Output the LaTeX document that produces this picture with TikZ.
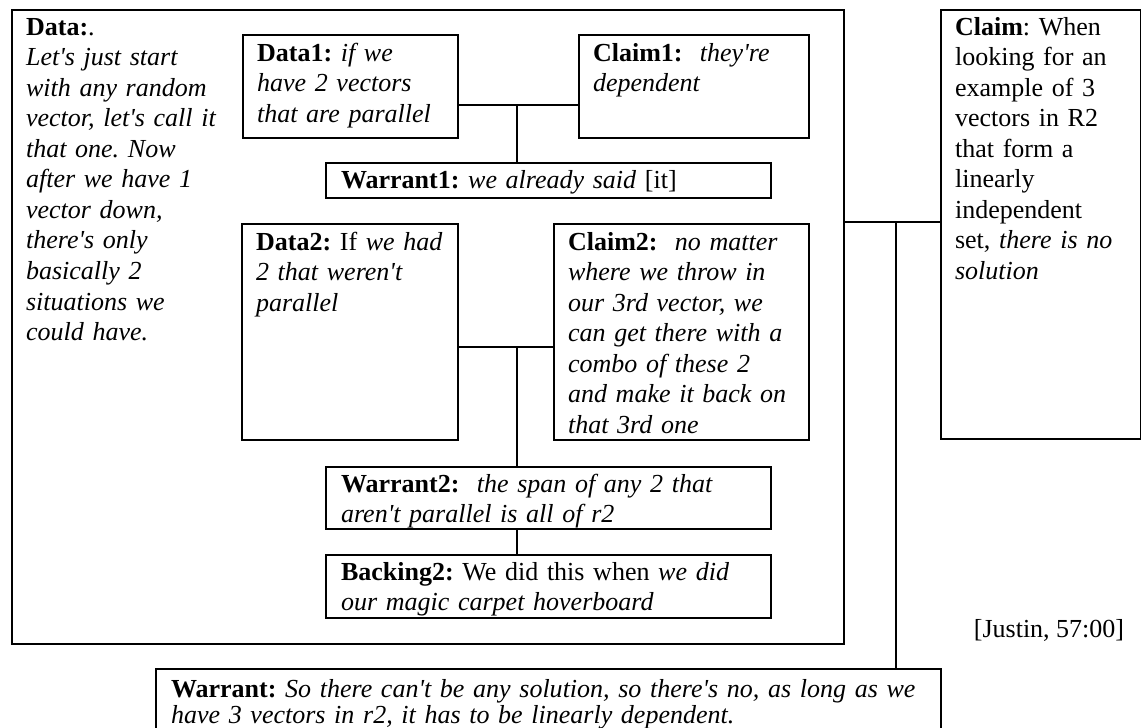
\documentclass[tikz,border=0pt]{standalone}
\usepackage{fontspec}
\setmainfont{Liberation Serif}[Ligatures=TeXOff]
\newdimen\upx \upx=0.4615pt
\begin{document}
\frenchspacing
\begin{tikzpicture}[x=0.4615pt, y=-0.4615pt,
  tbox/.style={draw, line width=1pt, anchor=north west, align=left,
    inner xsep=14\upx, inner ysep=0pt,
    font=\fontsize{12pt}{14.1pt}\selectfont\frenchspacing},
  link/.style={line width=1pt}]
\useasboundingbox (0,0) rectangle (1141,728);

% outer data box
\node[tbox, text width=804\upx, text height=25\upx, text depth=609\upx] (data) at (11,9)
  {\textbf{Data:}.\\
   \textit{Let's just start}\\
   \textit{with any random}\\
   \textit{vector, let's call it}\\
   \textit{that one. Now}\\
   \textit{after we have 1}\\
   \textit{vector down,}\\
   \textit{there's only}\\
   \textit{basically 2}\\
   \textit{situations we}\\
   \textit{could have.}};

% first sub-argument
\node[tbox, text width=187\upx, text height=26\upx, text depth=77\upx] (data1) at (242,34)
  {\mbox{\textbf{Data1:} \textit{if we}}\\
   \mbox{\textit{have 2 vectors}}\\
   \mbox{\textit{that are parallel}}};
\node[tbox, text width=202\upx, text height=26\upx, text depth=77\upx] (claim1) at (578,34)
  {\mbox{\textbf{Claim1:}\ \ \textit{they're}}\\
   \textit{dependent}};
\node[tbox, inner xsep=15\upx, text width=415\upx, text height=25\upx, text depth=10\upx] (warrant1) at (325,162)
  {\textbf{Warrant1:} \textit{we already said} [it]};

% second sub-argument
\node[tbox, text width=188\upx, text height=26\upx, text depth=190\upx] (data2) at (241,223)
  {\mbox{\textbf{Data2:} If \textit{we had}}\\
   \mbox{\textit{2 that weren't}}\\
   \textit{parallel}};
\node[tbox, text width=227\upx, text height=26\upx, text depth=190\upx] (claim2) at (553,223)
  {\mbox{\textbf{Claim2:}\ \ \textit{no matter}}\\
   \mbox{\textit{where we throw in}}\\
   \mbox{\textit{our 3rd vector, we}}\\
   \mbox{\textit{can get there with a}}\\
   \mbox{\textit{combo of these 2}}\\
   \mbox{\textit{and make it back on}}\\
   \mbox{\textit{that 3rd one}}};
\node[tbox, inner xsep=15\upx, text width=415\upx, text height=25\upx, text depth=37\upx] (warrant2) at (325,466)
  {\textbf{Warrant2:}\ \ \textit{the span of any 2 that}\\
   \textit{aren't parallel is all of r2}};
\node[tbox, inner xsep=15\upx, text width=415\upx, text height=25\upx, text depth=38\upx] (backing2) at (325,554)
  {\textbf{Backing2:} We did this when \textit{we did}\\
   \textit{our magic carpet hoverboard}};

% main claim and warrant (the warrant box runs past the lower page edge)
\node[tbox, text width=172\upx, text height=25\upx, text depth=404\upx] (claim) at (940,9)
  {\textbf{Claim}: When\\
   looking for an\\
   example of 3\\
   vectors in R2\\
   that form a\\
   linearly\\
   independent\\
   set, \textit{there is no}\\
   \textit{solution}};
\node[tbox, inner xsep=15\upx, text width=755\upx, text height=28\upx, text depth=46\upx,
      font=\fontsize{12pt}{12pt}\selectfont\frenchspacing] (warrant) at (155,668)
  {\mbox{\textbf{Warrant:} \textit{So there can't be any solution, so there's no, as long as we}}\\
   \textit{have 3 vectors in r2, it has to be linearly dependent.}};

\node[font=\fontsize{12pt}{14.1pt}\selectfont, inner sep=0pt, anchor=base] (src) at (1049,637) {[Justin, 57:00]};

% junctions of the connectors
\coordinate (j1) at (517,105);
\coordinate (j2) at (517,347);
\coordinate (j3) at (896,222);

\draw[link] (data1.east |- j1) -- (claim1.west |- j1);
\draw[link] (j1) -- (j1 |- warrant1.north);
\draw[link] (data2.east |- j2) -- (claim2.west |- j2);
\draw[link] (j2) -- (j2 |- warrant2.north);
\draw[link] (warrant2.south -| j2) -- (backing2.north -| j2);
\draw[link] (data.east |- j3) -- (claim.west |- j3);
\draw[link] (j3) -- (j3 |- warrant.north);
\end{tikzpicture}
\end{document}
